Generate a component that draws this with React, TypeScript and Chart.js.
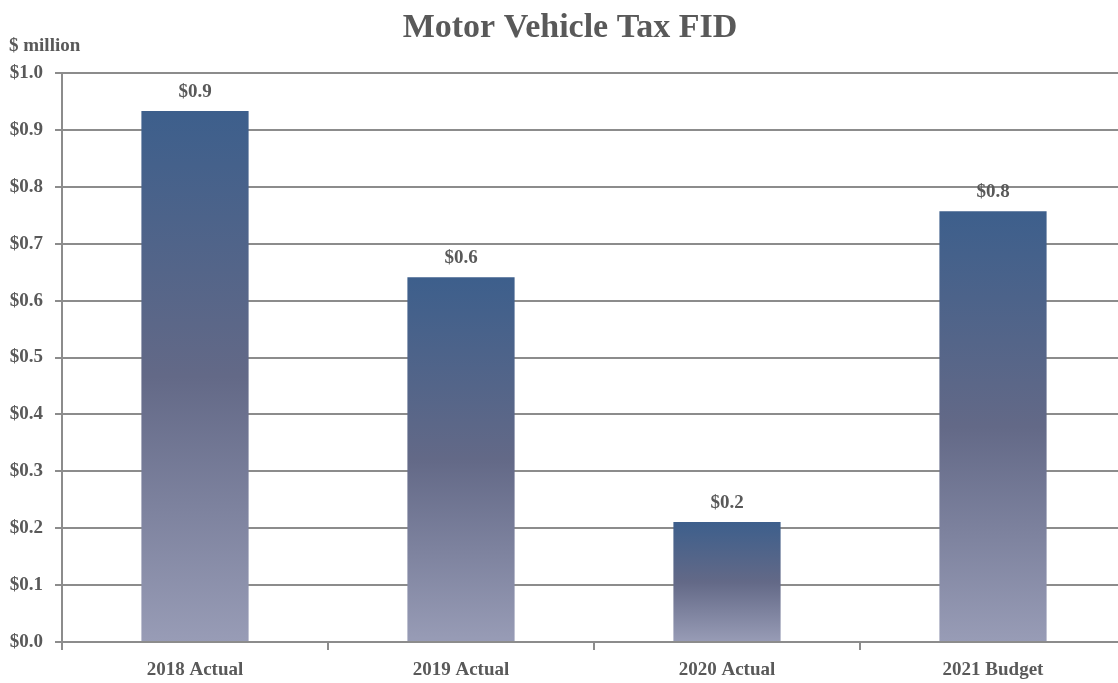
import React, { useEffect, useRef } from "react";
import { Chart, registerables } from "chart.js";

Chart.register(...registerables);

const categories = ["2018 Actual", "2019 Actual", "2020 Actual", "2021 Budget"];
const values = [0.933, 0.641, 0.211, 0.757];
const yTicks = [0, 0.1, 0.2, 0.3, 0.4, 0.5, 0.6, 0.7, 0.8, 0.9, 1.0];
const titleText = "Motor Vehicle Tax FID";
const unitText = "$ million";

const FONT = "'Liberation Serif', 'Times New Roman', serif";
const TEXT = "#595959";
const GRID = "#8c8c8c";

export default function App() {
  const ref = useRef<HTMLCanvasElement | null>(null);

  useEffect(() => {
    if (!ref.current) return;

    const textPlugin = {
      id: "texts",
      afterDraw(chart: any) {
        const { ctx, chartArea, width } = chart;
        ctx.save();
        ctx.fillStyle = TEXT;
        ctx.textAlign = "center";
        ctx.textBaseline = "middle";
        ctx.font = `bold 34px ${FONT}`;
        ctx.fillText(titleText, width / 2, 28);
        ctx.textAlign = "left";
        ctx.font = `bold 19px ${FONT}`;
        ctx.fillText(unitText, 9, chartArea.top - 27);
        ctx.restore();
      },
      afterDatasetsDraw(chart: any) {
        const { ctx } = chart;
        const meta = chart.getDatasetMeta(0);
        ctx.save();
        ctx.fillStyle = TEXT;
        ctx.textAlign = "center";
        ctx.textBaseline = "middle";
        ctx.font = `bold 19px ${FONT}`;
        meta.data.forEach((el: any, i: number) => {
          ctx.fillText("$" + values[i].toFixed(1), el.x, el.y - 19);
        });
        ctx.restore();
      },
    };

    const chart = new Chart(ref.current, {
      type: "bar",
      data: {
        labels: categories,
        datasets: [
          {
            data: values,
            barPercentage: 0.403,
            categoryPercentage: 1,
            backgroundColor: (c: any) => {
              const chart = c.chart;
              const s = chart.scales?.y;
              if (!chart.chartArea || !s || c.raw === undefined) return "#636987";
              const top = s.getPixelForValue(c.raw);
              const bottom = s.getPixelForValue(0);
              const g = chart.ctx.createLinearGradient(0, top, 0, bottom);
              g.addColorStop(0, "#3d5f8c");
              g.addColorStop(0.5, "#636987");
              g.addColorStop(1, "#989cb6");
              return g;
            },
          },
        ],
      },
      options: {
        animation: false,
        responsive: true,
        maintainAspectRatio: false,
        layout: { padding: { top: 73, right: 14, left: 0, bottom: 0 } },
        plugins: {
          legend: { display: false },
          tooltip: { enabled: false },
          title: { display: false },
        },
        scales: {
          x: {
            offset: true,
            grid: {
              offset: true,
              drawOnChartArea: false,
              drawTicks: true,
              tickLength: 8,
              color: GRID,
              lineWidth: 2,
            },
            border: { display: true, color: GRID, width: 2 },
            ticks: {
              color: TEXT,
              font: { family: FONT, size: 19, weight: "bold" },
              padding: 9,
              maxRotation: 0,
            },
            afterFit: (s: any) => {
              s.height = 41;
            },
          },
          y: {
            min: 0,
            max: 1,
            afterBuildTicks: (s: any) => {
              s.ticks = yTicks.map((v) => ({ value: v }));
            },
            grid: {
              color: GRID,
              lineWidth: 2,
              drawTicks: true,
              tickLength: 7,
            },
            border: { display: true, color: GRID, width: 2 },
            ticks: {
              color: TEXT,
              font: { family: FONT, size: 19, weight: "bold" },
              padding: 12,
              callback: (v: any) => "$" + Number(v).toFixed(1),
            },
            afterFit: (s: any) => {
              s.width = 62;
            },
          },
        },
      },
      plugins: [textPlugin],
    });

    return () => chart.destroy();
  }, []);

  return (
    <div
      style={{
        position: "fixed",
        left: 0,
        top: 0,
        width: 1118,
        height: 683,
        overflow: "hidden",
        background: "#fff",
      }}
    >
      <div style={{ position: "relative", width: 1140, height: 683 }}>
        <canvas ref={ref} />
      </div>
    </div>
  );
}
